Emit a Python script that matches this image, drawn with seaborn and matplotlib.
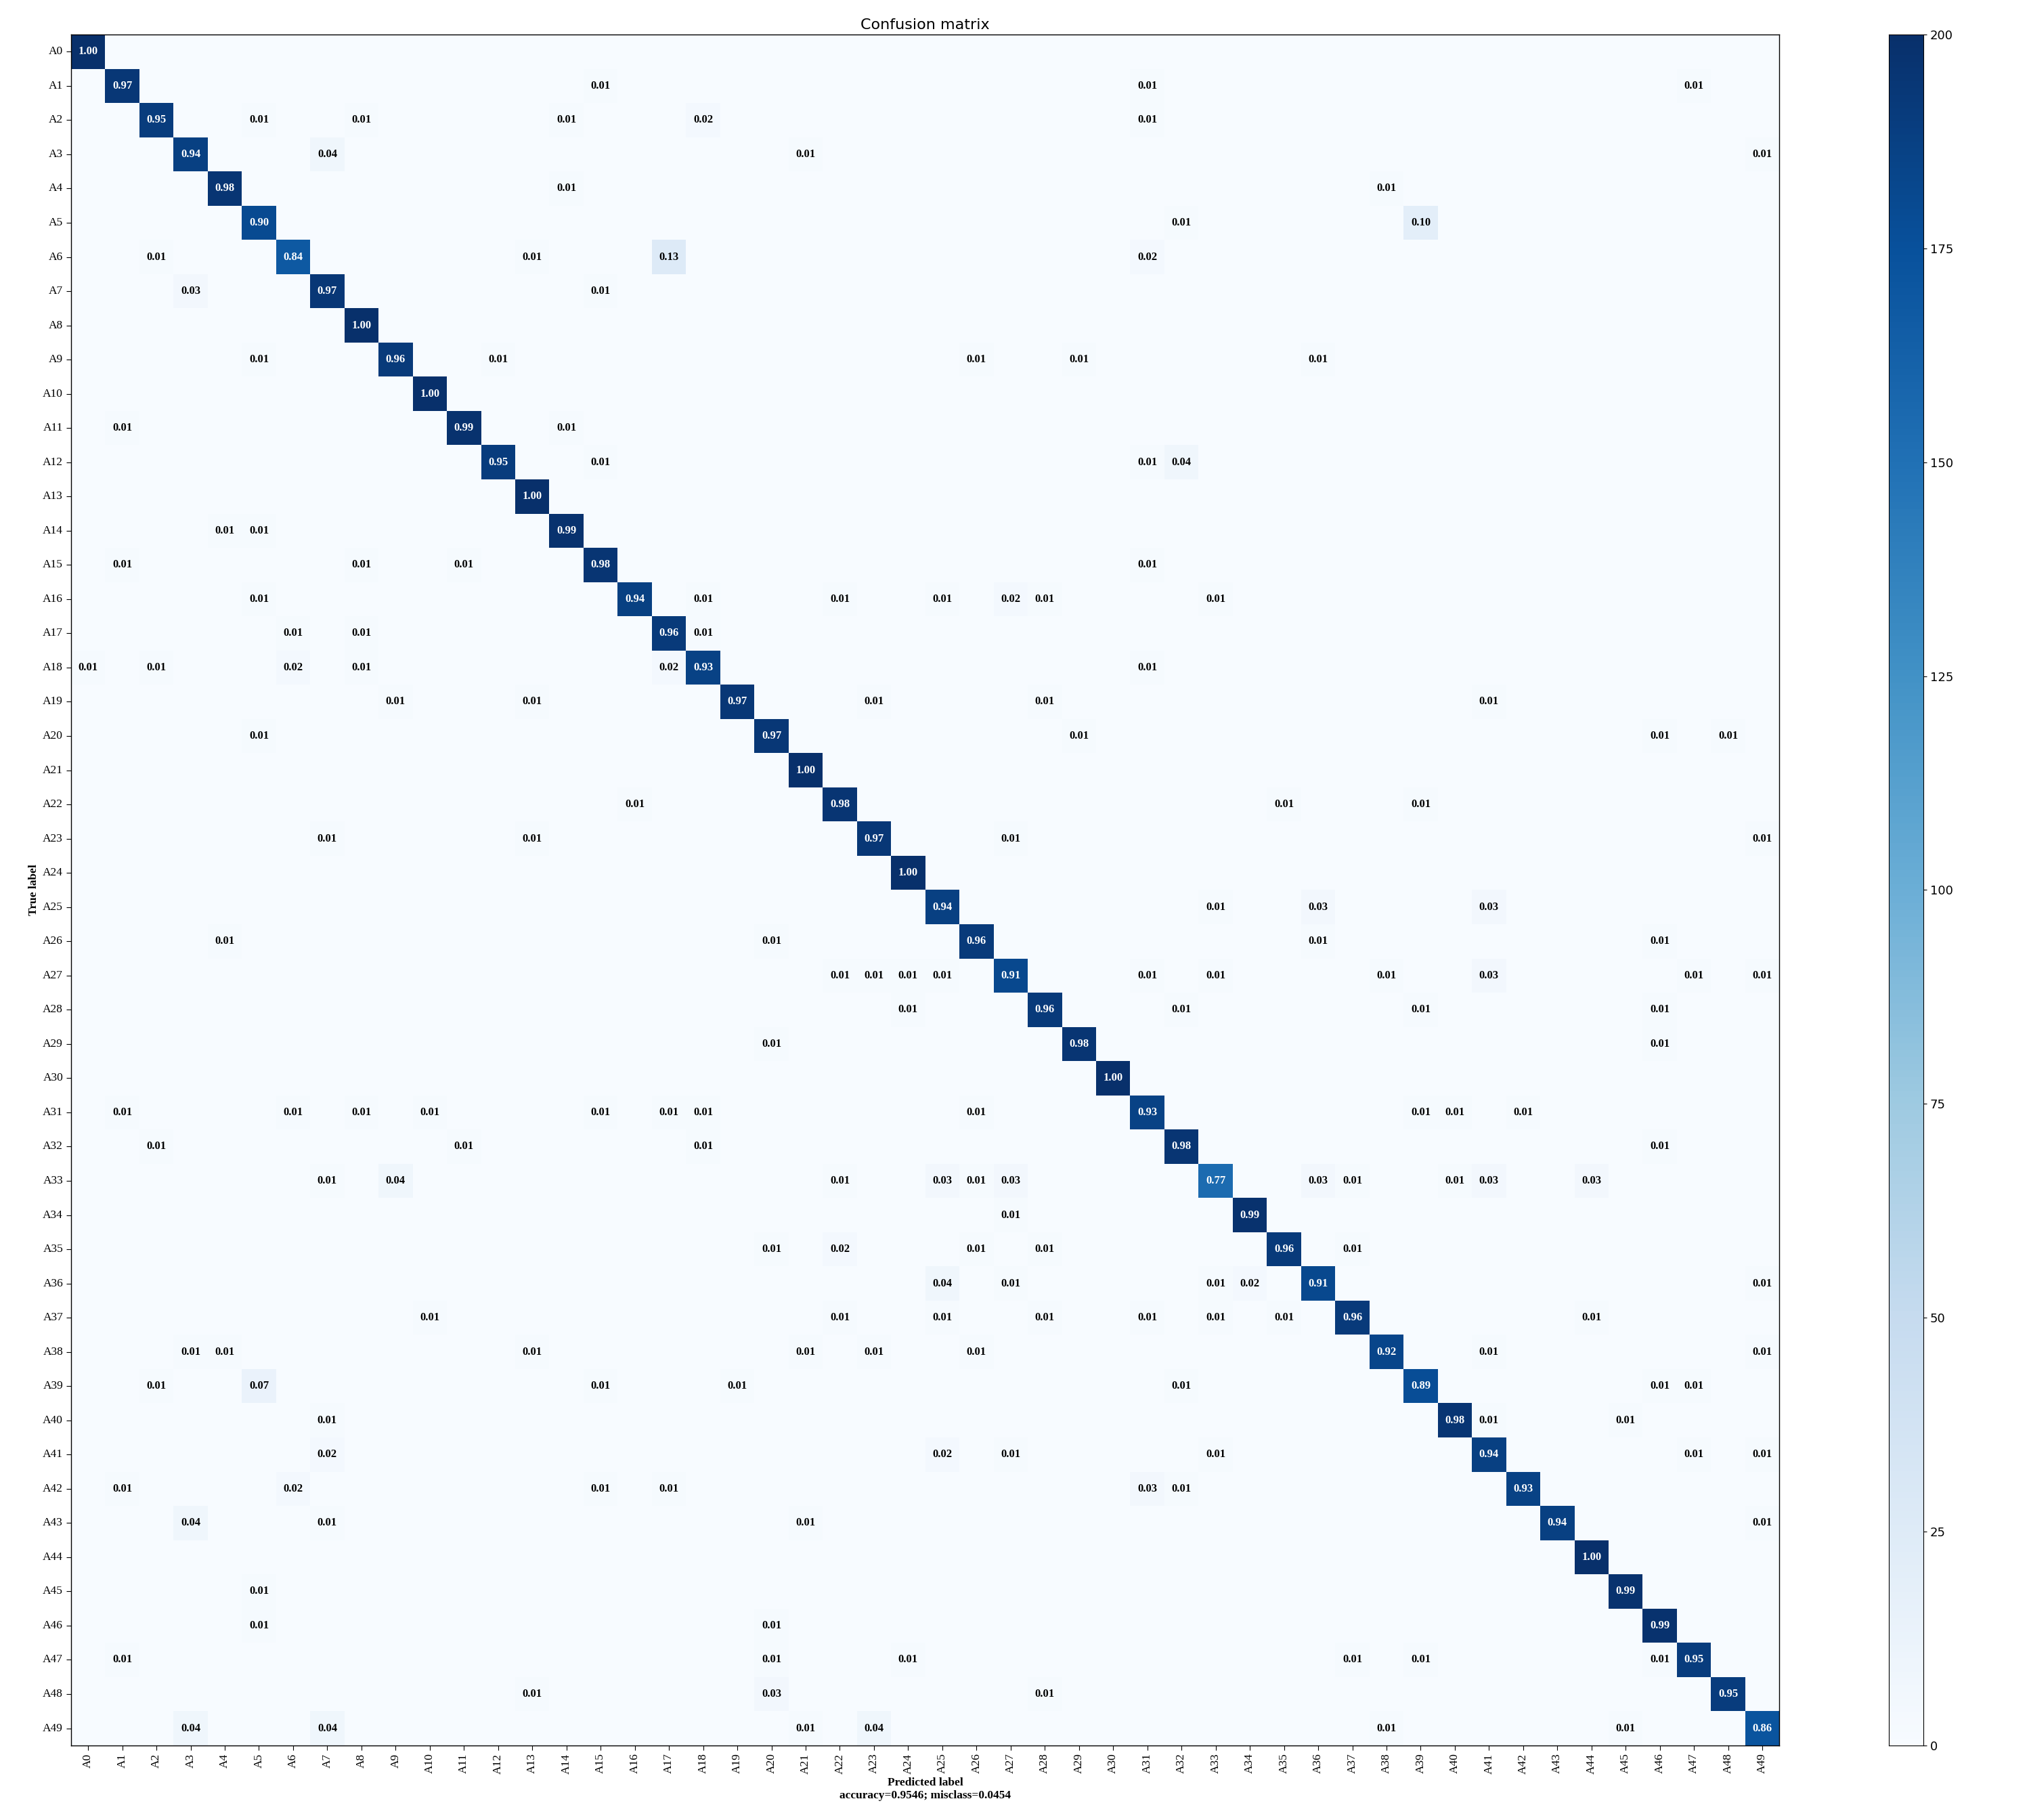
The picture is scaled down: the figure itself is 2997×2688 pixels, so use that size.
import numpy as np
import matplotlib
matplotlib.use("Agg")
import matplotlib.pyplot as plt
import seaborn as sns

labels = [f"A{i}" for i in range(50)]
diag = [1.00,0.97,0.95,0.94,0.98,0.90,0.84,0.97,1.00,0.96,1.00,0.99,0.95,1.00,0.99,0.98,0.94,0.96,0.93,0.97,
        0.97,1.00,0.98,0.97,1.00,0.94,0.96,0.91,0.96,0.98,1.00,0.93,0.98,0.77,0.99,0.96,0.91,0.96,0.92,0.89,
        0.98,0.94,0.93,0.94,1.00,0.99,0.99,0.95,0.95,0.86]
# off-diagonal entries per true row: {predicted column: normalized value}
off = {
1:{15:.01,31:.01,47:.01},
2:{5:.01,8:.01,14:.01,18:.02,31:.01},
3:{7:.04,21:.01,49:.01},
4:{14:.01,38:.01},
5:{32:.01,39:.10},
6:{2:.01,13:.01,17:.13,31:.02},
7:{3:.03,15:.01},
9:{5:.01,12:.01,26:.01,29:.01,36:.01},
11:{1:.01,14:.01},
12:{15:.01,31:.01,32:.04},
14:{4:.01,5:.01},
15:{1:.01,8:.01,11:.01,31:.01},
16:{5:.01,18:.01,22:.01,25:.01,27:.02,28:.01,33:.01},
17:{6:.01,8:.01,18:.01},
18:{0:.01,2:.01,6:.02,8:.01,17:.02,31:.01},
19:{9:.01,13:.01,23:.01,28:.01,41:.01},
20:{5:.01,29:.01,46:.01,48:.01},
22:{16:.01,35:.01,39:.01},
23:{7:.01,13:.01,27:.01,49:.01},
25:{33:.01,36:.03,41:.03},
26:{4:.01,20:.01,36:.01,46:.01},
27:{22:.01,23:.01,24:.01,25:.01,31:.01,33:.01,38:.01,41:.03,47:.01,49:.01},
28:{24:.01,32:.01,39:.01,46:.01},
29:{20:.01,46:.01},
31:{1:.01,6:.01,8:.01,10:.01,15:.01,17:.01,18:.01,26:.01,39:.01,40:.01,42:.01},
32:{2:.01,11:.01,18:.01,46:.01},
33:{7:.01,9:.04,22:.01,25:.03,26:.01,27:.03,36:.03,37:.01,40:.01,41:.03,44:.03},
34:{27:.01},
35:{20:.01,22:.02,26:.01,28:.01,37:.01},
36:{25:.04,27:.01,33:.01,34:.02,49:.01},
37:{10:.01,22:.01,25:.01,28:.01,31:.01,33:.01,35:.01,44:.01},
38:{3:.01,4:.01,13:.01,21:.01,23:.01,26:.01,41:.01,49:.01},
39:{2:.01,5:.07,15:.01,19:.01,32:.01,46:.01,47:.01},
40:{7:.01,41:.01,45:.01},
41:{7:.02,25:.02,27:.01,33:.01,47:.01,49:.01},
42:{1:.01,6:.02,15:.01,17:.01,31:.03,32:.01},
43:{3:.04,7:.01,21:.01,49:.01},
45:{5:.01},
46:{5:.01,20:.01},
47:{1:.01,20:.01,24:.01,37:.01,39:.01,46:.01},
48:{13:.01,20:.03,28:.01},
49:{3:.04,7:.04,21:.01,23:.04,38:.01,45:.01},
}
samples_per_class = 200

n = len(labels)
norm = np.zeros((n, n))
for i, v in enumerate(diag):
    norm[i, i] = v
for r, d in off.items():
    for c, v in d.items():
        norm[r, c] = v
counts = norm * samples_per_class

fig = plt.figure(figsize=(29.97, 26.88), dpi=100)
ax = fig.add_axes([0.035, 0.041, 0.842, 0.940])
cax = fig.add_axes([0.931, 0.041, 0.017, 0.940])
sns.heatmap(counts, ax=ax, cbar_ax=cax, cmap="Blues", vmin=0, vmax=200,
            xticklabels=labels, yticklabels=labels, square=False)
for s in ax.spines.values():
    s.set_visible(True)
    s.set_linewidth(1)
for s in cax.spines.values():
    s.set_visible(True)
cax.tick_params(labelsize=13)
serif = ["Liberation Serif", "DejaVu Serif"]
for i in range(n):
    for j in range(n):
        if norm[i, j] > 0:
            ax.text(j + 0.5, i + 0.5, f"{norm[i, j]:.2f}", ha="center", va="center",
                    fontsize=12, fontweight="bold", family=serif,
                    color="white" if counts[i, j] > 100 else "black")
ax.set_xticklabels(labels, rotation=90, fontsize=12.5, family=serif)
ax.set_yticklabels(labels, rotation=0, fontsize=12.5, family=serif)
ax.tick_params(length=5)
ax.set_title("Confusion matrix", fontsize=16)
ax.set_ylabel("True label", fontsize=12.5, family=serif, fontweight="bold")
ax.set_xlabel("Predicted label\naccuracy=0.9546; misclass=0.0454", fontsize=12.5, family=serif, fontweight="bold")
fig.savefig("out.png", dpi=100)
